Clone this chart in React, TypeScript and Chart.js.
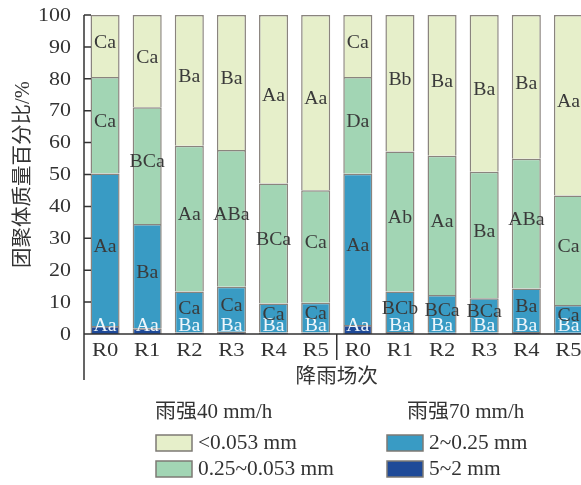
import React, { useEffect, useRef } from "react";
import { Chart, registerables } from "chart.js";

Chart.register(...registerables);

// ---- data ----
const categories = ["R0", "R1", "R2", "R3", "R4", "R5", "R0", "R1", "R2", "R3", "R4", "R5"];
const seriesNames = ["5~2 mm", "2~0.25 mm", "0.25~0.053 mm", "<0.053 mm"];
const coarse = [2.5, 1.8, 0.5, 0.7, 0.5, 0.5, 2.8, 0.6, 0.4, 0.5, 0.6, 0.4];
const medium = [47.8, 32.7, 12.8, 14.1, 9.1, 9.3, 47.4, 12.7, 11.8, 10.7, 13.7, 8.7];
const fine = [30.3, 36.6, 45.7, 42.9, 37.6, 35.3, 30.4, 43.9, 43.7, 39.7, 40.6, 34.3];
const finest = [19.4, 28.9, 41.0, 42.3, 52.8, 54.9, 19.4, 42.8, 44.1, 49.1, 45.1, 56.6];

const coarseLabels = ["Aa", "Aa", "Ba", "Ba", "Ba", "Ba", "Aa", "Ba", "Ba", "Ba", "Ba", "Ba"];
const mediumLabels = ["Aa", "Ba", "Ca", "Ca", "Ca", "Ca", "Aa", "BCb", "BCa", "BCa", "Ba", "Ca"];
const fineLabels = ["Ca", "BCa", "Aa", "ABa", "BCa", "Ca", "Da", "Ab", "Aa", "Ba", "ABa", "Ca"];
const finestLabels = ["Ca", "Ca", "Ba", "Ba", "Aa", "Aa", "Ca", "Bb", "Ba", "Ba", "Ba", "Aa"];

const yTicks = [0, 10, 20, 30, 40, 50, 60, 70, 80, 90, 100];
const groupTitles = ["雨强40 mm/h", "雨强70 mm/h"];
const xTitle = "降雨场次";
const yTitle = "团聚体质量百分比/%";

const colors = ["#1f4a98", "#399bc4", "#a2d5b4", "#e6efca"];
const borderColor = "#8a847e";
const FONT = '"Liberation Serif", "Noto Sans CJK SC", serif';

function stretchText(
  ctx: CanvasRenderingContext2D,
  text: string,
  x: number,
  y: number,
  sx: number
) {
  ctx.save();
  ctx.translate(x, y);
  ctx.scale(sx, 1);
  ctx.fillText(text, 0, 0);
  ctx.restore();
}

const overlay = {
  id: "overlay",
  afterDatasetsDraw(chart: any) {
    const ctx = chart.ctx as CanvasRenderingContext2D;
    const xs = chart.scales.x;
    const ys = chart.scales.y;
    const { left, right, bottom } = chart.chartArea;
    const labelSets = [coarseLabels, mediumLabels, fineLabels, finestLabels];
    ctx.save();

    // segment labels
    ctx.font = `18px ${FONT}`;
    ctx.textAlign = "center";
    ctx.textBaseline = "middle";
    labelSets.forEach((labels, d) => {
      const meta = chart.getDatasetMeta(d);
      meta.data.forEach((bar: any, i: number) => {
        let ty: number;
        if (d === 0) {
          ty = bar.base - 8;
          ctx.fillStyle = "#eef6fb";
        } else {
          ty = (bar.y + bar.base) / 2 - 3;
          ctx.fillStyle = "#3a3a3a";
        }
        stretchText(ctx, labels[i], bar.x, ty, 1.1);
      });
    });

    // axes
    ctx.strokeStyle = "#333";
    ctx.lineWidth = 1.5;
    const yTop = ys.getPixelForValue(100);
    ctx.beginPath();
    ctx.moveTo(left, yTop);
    ctx.lineTo(left, 380);
    ctx.moveTo(left, bottom);
    ctx.lineTo(right + 20, bottom);
    const sep = (xs.getPixelForValue(5) + xs.getPixelForValue(6)) / 2;
    ctx.moveTo(sep, bottom);
    ctx.lineTo(sep, 360);
    yTicks.forEach((v) => {
      const py = ys.getPixelForValue(v);
      ctx.moveTo(left, py);
      ctx.lineTo(left + 7, py);
    });
    ctx.stroke();

    // y tick labels
    ctx.fillStyle = "#333";
    ctx.font = `18px ${FONT}`;
    ctx.textAlign = "right";
    ctx.textBaseline = "middle";
    yTicks.forEach((v) => {
      stretchText(ctx, String(v), left - 13, ys.getPixelForValue(v) + 1, 1.22);
    });

    // x tick labels
    ctx.textAlign = "center";
    categories.forEach((c, i) => {
      stretchText(ctx, c, xs.getPixelForValue(i), 351, 1.25);
    });

    // axis titles
    ctx.font = `20px ${FONT}`;
    stretchText(ctx, xTitle, (left + right) / 2, 378, 1.03);
    ctx.save();
    ctx.translate(24, (yTop + ys.getPixelForValue(0)) / 2);
    ctx.rotate(-Math.PI / 2);
    ctx.font = `20.5px ${FONT}`;
    ctx.fillText(yTitle, 0, 0);
    ctx.restore();

    // legend
    ctx.textAlign = "left";
    ctx.font = `20px ${FONT}`;
    stretchText(ctx, groupTitles[0], 155, 413, 1.05);
    stretchText(ctx, groupTitles[1], 407, 413, 1.05);
    const items = [
      { c: 3, x: 156, y: 435 },
      { c: 2, x: 156, y: 461 },
      { c: 1, x: 387, y: 435 },
      { c: 0, x: 387, y: 461 },
    ];
    items.forEach((it) => {
      ctx.fillStyle = colors[it.c];
      ctx.fillRect(it.x, it.y, 36, 16);
      ctx.strokeStyle = "#7d7a74";
      ctx.lineWidth = 1.5;
      ctx.strokeRect(it.x, it.y, 36, 16);
      ctx.fillStyle = "#333";
      stretchText(ctx, seriesNames[it.c], it.x + 42, it.y + 9, 1.07);
    });

    ctx.restore();
  },
};

export default function App() {
  const ref = useRef<HTMLCanvasElement>(null);
  useEffect(() => {
    if (!ref.current) return;
    const series = [coarse, medium, fine, finest];
    const chart = new Chart(ref.current, {
      type: "bar",
      data: {
        labels: categories,
        datasets: series.map((vals, i) => ({
          label: seriesNames[i],
          data: vals,
          backgroundColor: colors[i],
          borderColor: borderColor,
          borderWidth: 1.5,
          barPercentage: 0.69,
          categoryPercentage: 1,
        })),
      },
      options: {
        responsive: false,
        animation: false,
        devicePixelRatio: 1,
        layout: { padding: { left: 84, right: 10.5, top: 15, bottom: 151 } },
        plugins: { legend: { display: false }, tooltip: { enabled: false } },
        scales: {
          x: { stacked: true, display: false },
          y: { stacked: true, display: false, min: 0, max: 100 },
        },
      },
      plugins: [overlay],
    });
    return () => chart.destroy();
  }, []);
  return (
    <div
      style={{
        position: "fixed",
        left: 0,
        top: 0,
        width: 581,
        height: 485,
        overflow: "hidden",
        background: "#fff",
      }}
    >
      <canvas ref={ref} width={600} height={485} style={{ width: 600, height: 485 }} />
    </div>
  );
}
